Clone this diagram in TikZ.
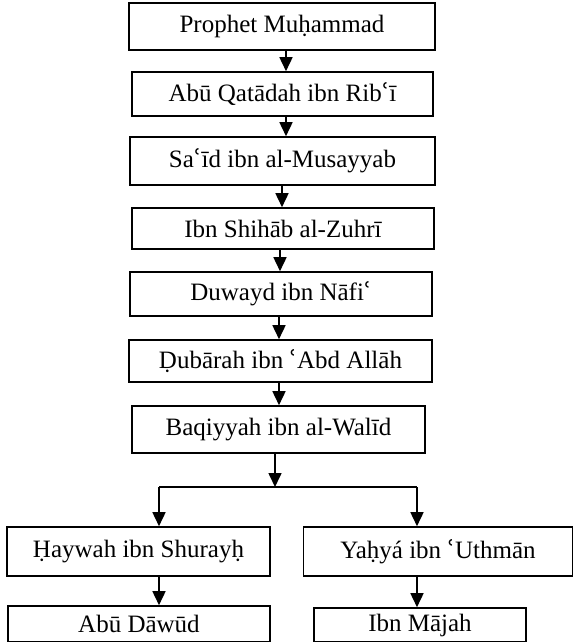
\documentclass[tikz,border=0pt]{standalone}
\usepackage{fontspec}
\setmainfont{Liberation Serif}
\newfontfamily\marksfont{DejaVu Serif}
\usetikzlibrary{arrows.meta}
% ayn sign set from a font that has it
\newcommand{\ayn}{{\marksfont\symbol{"02BF}}}
\tikzset{
  namebox/.style={draw=black, line width=1.6pt, fill=white, inner sep=0pt,
    font=\fontsize{25}{29}\selectfont},
  link/.style={line width=1.6pt, -{Triangle[length=14pt,width=13pt]}},
  rule/.style={line width=1.6pt}
}
\begin{document}
\begin{tikzpicture}[x=1pt, y=-1pt]
\useasboundingbox (0,0) rectangle (573,642);
% chain of narrators
\node[namebox, minimum width=306pt, minimum height=47pt] (n1) at (282,26.5) {Prophet Muḥammad};
\node[namebox, minimum width=301pt, minimum height=44pt] (n2) at (282.5,94) {Abū Qatādah ibn Rib\ayn ī};
\node[namebox, minimum width=305pt, minimum height=48pt] (n3) at (282.5,161) {Sa\ayn īd ibn al-Musayyab};
\node[namebox, minimum width=302pt, minimum height=41pt] (n4) at (283,228.5) {Ibn Shihāb al-Zuhrī};
\node[namebox, minimum width=302pt, minimum height=44pt] (n5) at (281,294) {Duwayd ibn Nāfi\ayn};
\node[namebox, minimum width=303pt, minimum height=42pt] (n6) at (280.5,361) {Ḍubārah ibn \ayn Abd Allāh};
\node[namebox, minimum width=293pt, minimum height=47pt] (n7) at (278.5,429.5) {Baqiyyah ibn al-Walīd};
% two branches
\node[namebox, minimum width=263pt, minimum height=49pt] (n8) at (138.5,551.5) {Ḥaywah ibn Shurayḥ};
\node[namebox, minimum width=269pt, minimum height=49pt] (n9) at (438,551.5) {Yaḥyá ibn \ayn Uthmān};
\node[namebox, minimum width=262pt, minimum height=36pt] (n10) at (139,624) {Abū Dāwūd};
\node[namebox, minimum width=212pt, minimum height=34pt] (n11) at (420,625) {Ibn Mājah};
% connectors
\coordinate (c1) at (286,0);
\coordinate (c3) at (282,0);
\coordinate (c4) at (280,0);
\coordinate (c5) at (279,0);
\coordinate (c7) at (275,0);
\coordinate (split) at (275,487);
\coordinate (bl) at (159,487);
\coordinate (br) at (417,487);
\draw[link] (n1.south -| c1) -- (n2.north -| c1);
\draw[link] (n2.south -| c1) -- (n3.north -| c1);
\draw[link] (n3.south -| c3) -- (n4.north -| c3);
\draw[link] (n4.south -| c4) -- (n5.north -| c4);
\draw[link] (n5.south -| c5) -- (n6.north -| c5);
\draw[link] (n6.south -| c5) -- (n7.north -| c5);
\draw[link] (n7.south -| c7) -- (split);
\draw[rule] (bl) -- (br);
\draw[link] (bl) -- (n8.north -| bl);
\draw[link] (br) -- (n9.north -| br);
\draw[link] (n8.south -| bl) -- (n10.north -| bl);
\draw[link] (n9.south -| br) -- (n11.north -| br);
\end{tikzpicture}
\end{document}
